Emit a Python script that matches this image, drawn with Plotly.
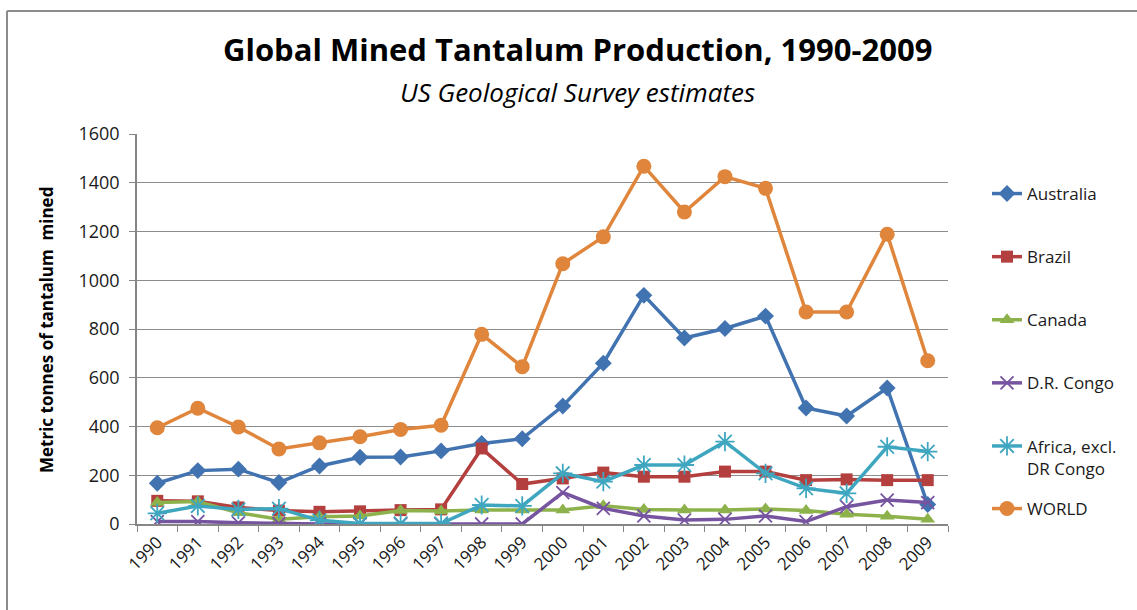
import plotly.graph_objects as go

years = [str(y) for y in range(1990, 2010)]
australia = [167, 219, 225, 170, 238, 274, 275, 300, 330, 350, 484, 660, 938, 763, 802, 853, 476, 443, 558, 80]
brazil = [95, 93, 68, 55, 50, 52, 57, 60, 310, 164, 187, 211, 194, 194, 215, 215, 180, 183, 180, 180]
canada = [88, 92, 46, 20, 30, 33, 55, 53, 57, 57, 57, 75, 60, 57, 57, 62, 55, 40, 32, 20]
drc = [10, 10, 5, 2, 0, 0, 0, 0, 0, 0, 129, 64, 33, 16, 19, 33, 10, 71, 98, 88]
africa = [44, 74, 60, 63, 15, 2, 2, 2, 78, 74, 208, 174, 242, 242, 338, 208, 146, 126, 317, 297]
world = [395, 475, 398, 308, 333, 358, 388, 405, 778, 645, 1068, 1178, 1468, 1280, 1425, 1377, 870, 870, 1189, 670]

series = [
    ("Australia", australia, "#4273B1", "diamond", 13, 0, "legend"),
    ("Brazil", brazil, "#B3403F", "square", 12, 0, "legend"),
    ("Canada", canada, "#8DB24B", "triangle-up", 13, 0, "legend"),
    ("D.R. Congo", drc, "#7654A0", "x-thin-open", 13, 1.8, "legend"),
    ("Africa, excl.<br>DR Congo", africa, "#3FA6C0", "asterisk-open", 16, 1.8, "legend"),
    ("WORLD", world, "#E0863C", "circle", 15, 0, "legend2"),
]

FONT = "Open Sans"
fig = go.Figure()
for name, vals, col, sym, size, lw, leg in series:
    marker = dict(symbol=sym, size=size, color=col)
    if lw:
        marker["line"] = dict(color=col, width=lw)
    fig.add_trace(go.Scatter(
        x=years, y=vals, name=name, mode="lines+markers",
        line=dict(color=col, width=3.5), marker=marker,
        legendgroup=name, legend=leg,
    ))

W, H = 1137, 610
L, R, T, B = 137, 189, 134, 86
pw, ph = W - L - R, H - T - B

def px(xp):
    return (xp - L) / pw

def py(yp):
    return (H - B - yp) / ph

legfont = dict(family=FONT, size=17, color="#1a1a1a")
fig.update_layout(
    width=W, height=H,
    margin=dict(l=L, r=R, t=T, b=B),
    paper_bgcolor="white", plot_bgcolor="white",
    font=dict(family=FONT, color="#1a1a1a", size=17),
    showlegend=True,
    legend=dict(
        x=px(987), y=py(176), xanchor="left", yanchor="top",
        font=legfont, tracegroupgap=38, valign="top",
        bgcolor="rgba(0,0,0,0)", itemwidth=30,
    ),
    legend2=dict(
        x=px(987), y=py(509), xanchor="left", yanchor="middle",
        font=legfont, bgcolor="rgba(0,0,0,0)", itemwidth=30,
    ),
    xaxis=dict(
        type="category", range=[-0.5, 19.5], tickson="boundaries",
        showline=True, linecolor="#868686", linewidth=1.5,
        ticks="outside", ticklen=6, tickcolor="#868686",
        tickangle=-45, tickfont=dict(family=FONT, size=17, color="#1a1a1a"),
        showgrid=False,
    ),
    yaxis=dict(
        range=[0, 1600], dtick=200, tick0=0,
        showline=True, linecolor="#868686", linewidth=1.5,
        ticks="outside", ticklen=6, tickcolor="#868686",
        showgrid=True, gridcolor="#8c8c8c", gridwidth=1,
        zeroline=False, ticklabelstandoff=6,
        tickfont=dict(family=FONT, size=18, color="#1a1a1a"),
    ),
    annotations=[
        dict(text="<b>Global Mined Tantalum Production, 1990-2009</b>",
             x=px(577), y=py(49), xref="paper", yref="paper",
             xanchor="center", yanchor="middle",
             showarrow=False, font=dict(family=FONT, size=31, color="#000000")),
        dict(text="<i>US Geological Survey estimates</i>",
             x=px(577), y=py(92), xref="paper", yref="paper",
             xanchor="center", yanchor="middle",
             showarrow=False, font=dict(family=FONT, size=26, color="#000000")),
        dict(text="<b>Metric tonnes of tantalum  mined</b>",
             x=px(46), y=py(330), xref="paper", yref="paper", textangle=-90,
             xanchor="center", yanchor="middle",
             showarrow=False, font=dict(family=FONT, size=17, color="#000000")),
    ],
    shapes=[
        dict(type="line", xref="paper", yref="paper",
             x0=px(7), x1=px(1140), y0=py(11), y1=py(11),
             line=dict(color="#8c8c8c", width=2)),
        dict(type="line", xref="paper", yref="paper",
             x0=px(7), x1=px(7), y0=py(11), y1=py(615),
             line=dict(color="#8c8c8c", width=2)),
    ],
)

fig.write_html("out.html", config={"displayModeBar": False},
               post_script="document.body.style.margin='0';")
